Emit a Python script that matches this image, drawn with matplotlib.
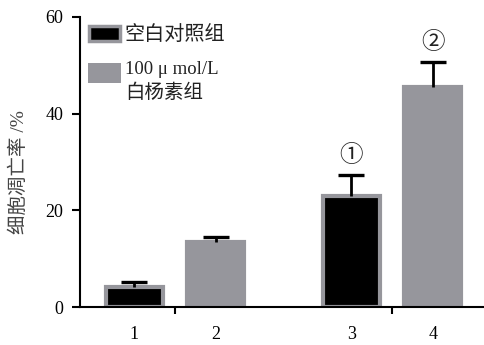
import matplotlib
matplotlib.use("Agg")
import matplotlib.pyplot as plt
from matplotlib.patches import Rectangle

plt.rcParams['font.family'] = ['Liberation Serif', 'Noto Sans CJK SC', 'DejaVu Sans']

# apoptosis rate (%) per group, with upper SD
groups = ['1', '2', '3', '4']
rates = [4.2, 13.5, 23.0, 45.5]
errors = [0.9, 1.0, 4.3, 5.2]
bar_colors = ['#000000', '#96969c', '#000000', '#96969c']
marks = ['', '', '①', '②']
legend_labels = ['空白对照组', '100 μ mol/L', '白杨素组']

# bar positions: two pairs with a wider gap between them
xpos = [1.0, 2.0, 3.66, 4.66]
grey = '#96969c'
cjk = ['Noto Sans CJK SC', 'DejaVu Sans']

fig = plt.figure(figsize=(4.85, 3.45), dpi=100)
ax = fig.add_axes([0.165, 0.110, 0.835, 0.841])

ax.bar(xpos, rates, width=0.70, color=bar_colors, edgecolor=grey, linewidth=3, zorder=2)
eb = ax.errorbar(xpos, rates, yerr=[[0] * 4, errors], fmt='none', ecolor='black',
                 elinewidth=2, capsize=9.7, capthick=2.4, zorder=3)
# only the upper cap is wanted
eb[1][0].set_visible(False)

for x, r, e, m in zip(xpos, rates, errors, marks):
    if m:
        ax.text(x, r + e + 4.0, m, ha='center', va='center', fontsize=17,
                family=cjk, fontweight='light', color='#222222')

ax.set_xlim(0.333, 5.3)
ax.set_ylim(0, 60)
ax.set_yticks([0, 20, 40, 60])
ax.set_xticks([1.5, 4.16])
ax.set_xticklabels([])
ax.set_xticks(xpos, minor=True)
ax.set_xticklabels(groups, minor=True)
ax.tick_params(axis='x', which='major', direction='out', length=5, width=1.5)
ax.tick_params(axis='x', which='minor', length=0, pad=14, labelsize=13)
ax.tick_params(axis='y', direction='out', length=6, width=1.5, pad=6, labelsize=13)

for side in ['top', 'right']:
    ax.spines[side].set_visible(False)
for side in ['left', 'bottom']:
    ax.spines[side].set_linewidth(1.5)

ax.set_ylabel('细胞凋亡率 /%', fontsize=14, color='#444444')
ax.yaxis.set_label_coords(-0.128, 0.466)

# legend drawn by hand
ax.add_patch(Rectangle((0.022, 0.918), 0.077, 0.050, transform=ax.transAxes,
                       facecolor='black', edgecolor=grey, linewidth=2.5, clip_on=False))
ax.add_patch(Rectangle((0.020, 0.772), 0.081, 0.069, transform=ax.transAxes,
                       facecolor=grey, edgecolor='none', clip_on=False))
ax.text(0.111, 0.941, legend_labels[0], transform=ax.transAxes, va='center',
        fontsize=14.5, color='#222222', family=cjk)
ax.text(0.111, 0.818, legend_labels[1], transform=ax.transAxes, va='center',
        fontsize=13.5, color='#222222')
ax.text(0.111, 0.738, legend_labels[2], transform=ax.transAxes, va='center',
        fontsize=14, color='#222222', family=cjk)

fig.savefig('out.png', dpi=100)
